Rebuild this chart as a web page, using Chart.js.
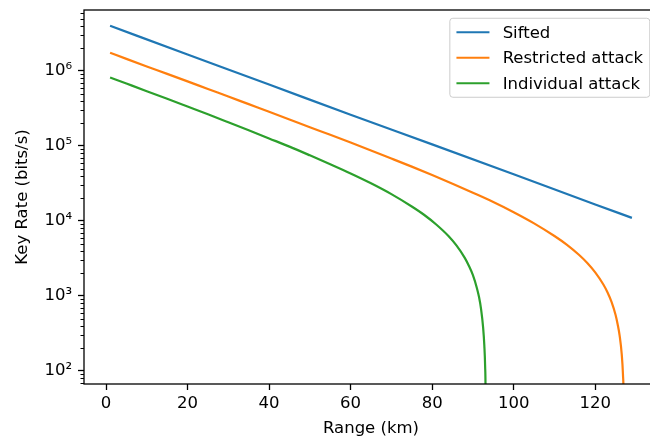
<!DOCTYPE html>
<html lang="en">
<head>
<meta charset="UTF-8">
<title>Key Rate vs Range</title>
<script src="https://cdn.jsdelivr.net/npm/chart.js"></script>
<style>
  html, body { margin: 0; padding: 0; background: #fff; overflow: hidden; }
  #wrap { width: 650px; height: 443px; overflow: hidden; position: relative; }
  #myChart { display: block; }
</style>
</head>
<body>
<div id="wrap"><canvas id="myChart" width="670" height="443"></canvas></div>
<script>
// values: range in km, key rate in bits/s
var rangeSifted = [1, 20, 40, 60, 80, 100, 120, 129];
var rateSifted = [4.0e6, 1.66e6, 6.6e5, 2.6e5, 1.05e5, 4.2e4, 1.66e4, 1.1e4];

var rangeRestricted = [1, 5, 10, 15, 20, 25, 30, 35, 40, 45, 50, 55, 60, 65, 70, 75, 80, 85, 90, 95,
  100, 105, 110, 113, 116, 118, 120, 122, 123, 124, 125, 125.5, 126, 126.5, 126.8, 127, 127.2];
var rateRestricted = [1.75e6, 1.45e6, 1.15e6, 9.15e5, 7.26e5, 5.75e5, 4.56e5, 3.61e5, 2.86e5, 2.26e5,
  1.78e5, 1.41e5, 1.11e5, 8.7e4, 6.8e4, 5.3e4, 4.1e4, 3.14e4, 2.38e4, 1.79e4,
  1.31e4, 9.3e3, 6.3e3, 4.84e3, 3.54e3, 2.77e3, 2.06e3, 1.42e3, 1.12e3, 834, 558, 420, 294, 168, 91, 37, 1];

var rangeIndividual = [1, 5, 10, 15, 20, 25, 30, 35, 40, 45, 50, 55, 60, 65, 70, 75, 78, 81, 84, 86,
  88, 89, 90, 91, 91.5, 92, 92.5, 92.8, 93.0, 93.1, 93.2];
var rateIndividual = [8.2e5, 6.8e5, 5.38e5, 4.25e5, 3.35e5, 2.64e5, 2.07e5, 1.62e5, 1.26e5, 9.8e4,
  7.5e4, 5.7e4, 4.3e4, 3.18e4, 2.28e4, 1.56e4, 1.21e4, 8.97e3, 6.3e3, 4.68e3,
  3.22e3, 2.53e3, 1.89e3, 1.26e3, 966, 667, 381, 218, 113, 51, 1];

var seriesLabels = ['Sifted', 'Restricted attack', 'Individual attack'];
var seriesColors = ['#1f77b4', '#ff7f0e', '#2ca02c'];

var xTickValues = [0, 20, 40, 60, 80, 100, 120];
var yTickValues = [1e2, 1e3, 1e4, 1e5, 1e6];
var yTickLabels = ['10\u00b2', '10\u00b3', '10\u2074', '10\u2075', '10\u2076'];

var FS = 16.5;
Chart.defaults.font.family = '"DejaVu Sans", sans-serif';
Chart.defaults.font.size = FS;
Chart.defaults.color = '#000';

function toPoints(xs, ys) {
  var pts = [];
  for (var i = 0; i < xs.length; i++) pts.push({ x: xs[i], y: ys[i] });
  return pts;
}

// axes frame, minor y ticks and the legend box (matplotlib look)
var framePlugin = {
  id: 'frame',
  afterDraw: function (chart) {
    var ctx = chart.ctx, a = chart.chartArea;
    ctx.save();
    ctx.strokeStyle = '#000';
    ctx.lineWidth = 1.3;
    ctx.strokeRect(a.left, a.top, a.right - a.left, a.bottom - a.top);

    var ys = chart.scales.y;
    ctx.lineWidth = 1;
    for (var e = 1; e <= 6; e++) {
      for (var m = 2; m <= 9; m++) {
        var v = m * Math.pow(10, e);
        if (v < ys.min || v > ys.max) continue;
        var py = Math.round(ys.getPixelForValue(v)) + 0.5;
        ctx.beginPath();
        ctx.moveTo(a.left - 3.5, py);
        ctx.lineTo(a.left, py);
        ctx.stroke();
      }
    }

    ctx.font = FS + 'px "DejaVu Sans"';
    var textW = 0;
    seriesLabels.forEach(function (l) { textW = Math.max(textW, ctx.measureText(l).width); });
    var w = FS * 0.4 * 2 + FS * 2 + FS * 0.8 + textW;
    var right = a.right - FS * 0.5;
    var left = right - w;
    var top = a.top + FS * 0.5;
    var rowH = 25.5, edge = 14;
    var h = edge * 2 + rowH * (seriesLabels.length - 1);
    var r = 3;
    ctx.beginPath();
    ctx.moveTo(left + r, top);
    ctx.lineTo(right - r, top);
    ctx.arcTo(right, top, right, top + r, r);
    ctx.lineTo(right, top + h - r);
    ctx.arcTo(right, top + h, right - r, top + h, r);
    ctx.lineTo(left + r, top + h);
    ctx.arcTo(left, top + h, left, top + h - r, r);
    ctx.lineTo(left, top + r);
    ctx.arcTo(left, top, left + r, top, r);
    ctx.closePath();
    ctx.fillStyle = 'rgba(255,255,255,0.8)';
    ctx.fill();
    ctx.strokeStyle = '#cccccc';
    ctx.lineWidth = 1;
    ctx.stroke();

    ctx.textBaseline = 'middle';
    ctx.textAlign = 'left';
    for (var i = 0; i < seriesLabels.length; i++) {
      var cy = top + edge + rowH * i;
      ctx.strokeStyle = seriesColors[i];
      ctx.lineWidth = 2.2;
      ctx.beginPath();
      ctx.moveTo(left + FS * 0.4, cy);
      ctx.lineTo(left + FS * 2.4, cy);
      ctx.stroke();
      ctx.fillStyle = '#000';
      ctx.fillText(seriesLabels[i], left + FS * 3.2, cy + 1);
    }
    ctx.restore();
  }
};

function makeSet(i, xs, ys) {
  return {
    label: seriesLabels[i],
    data: toPoints(xs, ys),
    borderColor: seriesColors[i],
    backgroundColor: seriesColors[i],
    borderWidth: 2.2,
    pointRadius: 0,
    fill: false,
    cubicInterpolationMode: 'monotone'
  };
}

var config = {
  type: 'line',
  data: {
    datasets: [
      makeSet(0, rangeSifted, rateSifted),
      makeSet(1, rangeRestricted, rateRestricted),
      makeSet(2, rangeIndividual, rateIndividual)
    ]
  },
  options: {
    responsive: false,
    animation: false,
    layout: { padding: { top: 10, right: 12, left: 0, bottom: 0 } },
    plugins: { legend: { display: false }, tooltip: { enabled: false } },
    scales: {
      x: {
        type: 'linear',
        min: -5.4,
        max: 135.4,
        afterBuildTicks: function (s) { s.ticks = xTickValues.map(function (v) { return { value: v }; }); },
        afterFit: function (s) { s.height = 59; s.paddingLeft = 0; s.paddingRight = 0; },
        ticks: { autoSkip: false, maxRotation: 0, padding: 4, color: '#000', callback: function (v) { return String(v); } },
        grid: { drawOnChartArea: false, drawTicks: true, tickLength: 6, tickWidth: 1.3, tickColor: '#000' },
        border: { display: false },
        title: { display: true, text: 'Range (km)', color: '#000', padding: { top: 0, bottom: 4 } }
      },
      y: {
        type: 'logarithmic',
        min: 67,
        max: 6.5e6,
        afterBuildTicks: function (s) { s.ticks = yTickValues.map(function (v) { return { value: v }; }); },
        afterFit: function (s) { s.width = 84; s.paddingTop = 0; s.paddingBottom = 0; },
        ticks: {
          autoSkip: false, padding: 6, color: '#000',
          callback: function (v) { var k = yTickValues.indexOf(v); return k >= 0 ? yTickLabels[k] : ''; }
        },
        grid: { drawOnChartArea: false, drawTicks: true, tickLength: 6, tickWidth: 1.3, tickColor: '#000' },
        border: { display: false },
        title: { display: true, text: 'Key Rate (bits/s)', color: '#000', padding: { top: 13, bottom: 0 } }
      }
    }
  },
  plugins: [framePlugin]
};

var myChart = new Chart(document.getElementById('myChart'), config);
</script>
</body>
</html>
